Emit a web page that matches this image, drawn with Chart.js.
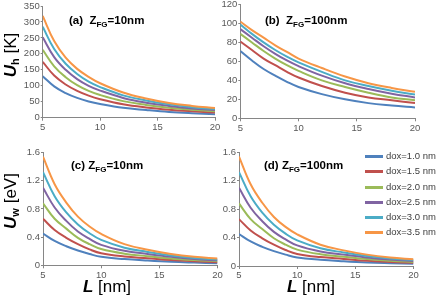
<!DOCTYPE html>
<html>
<head>
<meta charset="utf-8">
<script src="https://cdn.jsdelivr.net/npm/chart.js@4.4.1/dist/chart.umd.min.js"></script>
<style>
  html, body { margin: 0; padding: 0; background: #fff; }
  body { width: 436px; height: 299px; position: relative; overflow: hidden; font-family: "Liberation Sans", Arial, sans-serif; }
  .box { position: absolute; }
  .tag { position: absolute; font-weight: bold; font-size: 11.5px; color: #000; white-space: nowrap; line-height: 12px; }
  .tag sub { font-size: 8px; vertical-align: -3px; line-height: 0; }
  .ytitle { position: absolute; font-size: 17px; color: #000; white-space: nowrap; transform: translate(-50%, -50%) rotate(-90deg); line-height: 18px; }
  .ytitle sub { font-size: 11px; vertical-align: -3px; line-height: 0; font-weight: bold; }
  .xtitle { position: absolute; font-size: 17px; color: #000; white-space: nowrap; transform: translate(-50%, -50%); line-height: 18px; }
  .legend { position: absolute; left: 365px; top: 148px; font-size: 9.5px; color: #404040; }
  .legend div { height: 15.3px; line-height: 15.3px; white-space: nowrap; }
  .legend span { display: inline-block; width: 18px; height: 3px; vertical-align: middle; margin-right: 3px; }
</style>
</head>
<body>
<div class="box" id="boxA"><canvas id="chartA"></canvas></div>
<div class="box" id="boxB"><canvas id="chartB"></canvas></div>
<div class="box" id="boxC"><canvas id="chartC"></canvas></div>
<div class="box" id="boxD"><canvas id="chartD"></canvas></div>

<div class="tag" style="left:69px; top:14px;">(a)&nbsp; Z<sub>FG</sub>=10nm</div>
<div class="tag" style="left:265px; top:14px;">(b)&nbsp; Z<sub>FG</sub>=100nm</div>
<div class="tag" style="left:71px; top:159px;">(c) Z<sub>FG</sub>=10nm</div>
<div class="tag" style="left:264px; top:159px;">(d) Z<sub>FG</sub>=100nm</div>

<div class="ytitle" style="left:11px; top:55px;"><b><i>U</i></b><sub>h</sub> [K]</div>
<div class="ytitle" style="left:11px; top:201px;"><b><i>U</i></b><sub>w</sub> [eV]</div>
<div class="xtitle" style="left:107px; top:287px;"><b><i>L</i></b> [nm]</div>
<div class="xtitle" style="left:311px; top:287px;"><b><i>L</i></b> [nm]</div>

<div class="legend" id="legend"></div>

<script>
    "use strict";

    // Data
    var L = [5, 6, 7, 8, 9, 10, 12, 14, 16, 18, 20];
    var doxLabels = ['dox=1.0 nm', 'dox=1.5 nm', 'dox=2.0 nm', 'dox=2.5 nm', 'dox=3.0 nm', 'dox=3.5 nm'];
    var colors = ['#4F81BD', '#C0504D', '#9BBB59', '#8064A2', '#4BACC6', '#F79646'];

    // (a) Uh [K], ZFG=10nm
    var uhA_10 = [130, 98, 77, 62, 51, 43, 31, 24, 18, 14, 11];
    var uhA_15 = [175, 132, 104, 84, 69, 58, 42, 32, 25, 20, 16];
    var uhA_20 = [213, 161, 127, 102, 84, 71, 52, 40, 31, 25, 20];
    var uhA_25 = [252, 190, 150, 121, 100, 85, 62, 47, 37, 29, 24];
    var uhA_30 = [285, 215, 169, 137, 113, 96, 70, 54, 42, 33, 27];
    var uhA_35 = [319, 240, 188, 153, 128, 108, 79, 60, 46, 37, 30];

    // (b) Uh [K], ZFG=100nm
    var uhB_10 = [71, 61, 52, 45, 38.5, 33, 25.5, 20, 16, 13.5, 11.5];
    var uhB_15 = [81, 72, 63, 56, 49, 43, 34, 27, 22, 19, 16];
    var uhB_20 = [89, 80, 71, 63, 56, 50, 40, 33, 27, 22, 19];
    var uhB_25 = [94, 85, 76, 68, 61, 55, 45, 37, 31, 26, 22];
    var uhB_30 = [99, 89, 80, 72, 65, 59, 49, 40, 34, 29, 25];
    var uhB_35 = [102, 93, 85, 77, 70, 63, 53, 44, 37, 32, 28];

    // (c) Uw [eV], ZFG=10nm
    var uwC_10 = [0.45, 0.345, 0.27, 0.21, 0.16, 0.12, 0.088, 0.067, 0.05, 0.039, 0.03];
    var uwC_15 = [0.66, 0.50, 0.39, 0.30, 0.225, 0.17, 0.125, 0.10, 0.074, 0.057, 0.044];
    var uwC_20 = [0.88, 0.66, 0.52, 0.39, 0.30, 0.23, 0.165, 0.13, 0.097, 0.074, 0.057];
    var uwC_25 = [1.10, 0.82, 0.63, 0.48, 0.375, 0.29, 0.205, 0.16, 0.12, 0.09, 0.07];
    var uwC_30 = [1.32, 0.98, 0.75, 0.58, 0.455, 0.36, 0.25, 0.19, 0.14, 0.105, 0.083];
    var uwC_35 = [1.54, 1.15, 0.89, 0.69, 0.55, 0.445, 0.30, 0.22, 0.16, 0.12, 0.095];

    // (d) Uw [eV], ZFG=100nm
    var uwD_10 = [0.45, 0.345, 0.27, 0.21, 0.16, 0.12, 0.088, 0.067, 0.05, 0.039, 0.03];
    var uwD_15 = [0.66, 0.50, 0.39, 0.30, 0.225, 0.17, 0.125, 0.10, 0.074, 0.057, 0.044];
    var uwD_20 = [0.88, 0.66, 0.52, 0.39, 0.30, 0.23, 0.165, 0.13, 0.097, 0.074, 0.057];
    var uwD_25 = [1.10, 0.82, 0.63, 0.48, 0.375, 0.29, 0.205, 0.16, 0.12, 0.09, 0.07];
    var uwD_30 = [1.32, 0.98, 0.75, 0.58, 0.455, 0.36, 0.25, 0.19, 0.14, 0.105, 0.083];
    var uwD_35 = [1.54, 1.15, 0.89, 0.69, 0.55, 0.445, 0.30, 0.22, 0.16, 0.12, 0.095];

    var axisGray = '#868686';
    var tickFont = { family: '"Liberation Sans", Arial, sans-serif', size: 9.5 };

    // box = where the canvas sits, plot = where the plot area must land
    function makeChart(id, boxId, box, plot, yMax, yStep, series) {
        var wrap = document.getElementById(boxId);
        wrap.style.left = box.x + 'px';
        wrap.style.top = box.y + 'px';
        var canvas = document.getElementById(id);
        canvas.width = box.w;
        canvas.height = box.h;
        canvas.style.width = box.w + 'px';
        canvas.style.height = box.h + 'px';

        var datasets = series.map(function (vals, i) {
            return {
                label: doxLabels[i],
                data: L.map(function (x, j) { return { x: x, y: vals[j] }; }),
                borderColor: colors[i],
                backgroundColor: colors[i],
                borderWidth: 2,
                pointRadius: 0,
                tension: 0.4,
                fill: false,
                order: series.length - i
            };
        });

        return new Chart(canvas, {
            type: 'line',
            data: { datasets: datasets },
            options: {
                responsive: false,
                animation: false,
                devicePixelRatio: 1,
                layout: {
                    padding: { left: 0, right: box.x + box.w - plot.r, top: plot.t - box.y, bottom: 0 }
                },
                plugins: { legend: { display: false }, tooltip: { enabled: false } },
                scales: {
                    x: {
                        type: 'linear', min: 5, max: 20,
                        border: { color: axisGray },
                        grid: { drawOnChartArea: false, color: axisGray, tickLength: 3 },
                        ticks: { stepSize: 5, color: '#595959', font: tickFont, padding: 1, maxRotation: 0 },
                        afterFit: function (s) { s.height = box.y + box.h - plot.b; }
                    },
                    y: {
                        min: 0, max: yMax,
                        border: { color: axisGray },
                        grid: { drawOnChartArea: false, color: axisGray, tickLength: 2 },
                        ticks: { stepSize: yStep, color: '#595959', font: tickFont, padding: 1 },
                        afterFit: function (s) { s.width = plot.l - box.x; }
                    }
                }
            }
        });
    }

    makeChart('chartA', 'boxA', { x: 0, y: -6, w: 222, h: 138 }, { l: 42.7, r: 215, t: 6, b: 117.7 }, 350, 50,
        [uhA_10, uhA_15, uhA_20, uhA_25, uhA_30, uhA_35]);
    makeChart('chartB', 'boxB', { x: 205, y: -6, w: 217, h: 138 }, { l: 240.3, r: 415, t: 4.5, b: 118.3 }, 120, 20,
        [uhB_10, uhB_15, uhB_20, uhB_25, uhB_30, uhB_35]);
    makeChart('chartC', 'boxC', { x: 0, y: 140, w: 224, h: 140 }, { l: 43, r: 217.5, t: 152.5, b: 265.3 }, 1.6, 0.2,
        [uwC_10, uwC_15, uwC_20, uwC_25, uwC_30, uwC_35]);
    makeChart('chartD', 'boxD', { x: 205, y: 140, w: 217, h: 140 }, { l: 239, r: 413.5, t: 152.3, b: 266 }, 1.6, 0.2,
        [uwD_10, uwD_15, uwD_20, uwD_25, uwD_30, uwD_35]);

    // Legend
    var legend = document.getElementById('legend');
    doxLabels.forEach(function (lab, i) {
        var row = document.createElement('div');
        var sw = document.createElement('span');
        sw.style.background = colors[i];
        row.appendChild(sw);
        row.appendChild(document.createTextNode(lab));
        legend.appendChild(row);
    });
</script>
</body>
</html>
